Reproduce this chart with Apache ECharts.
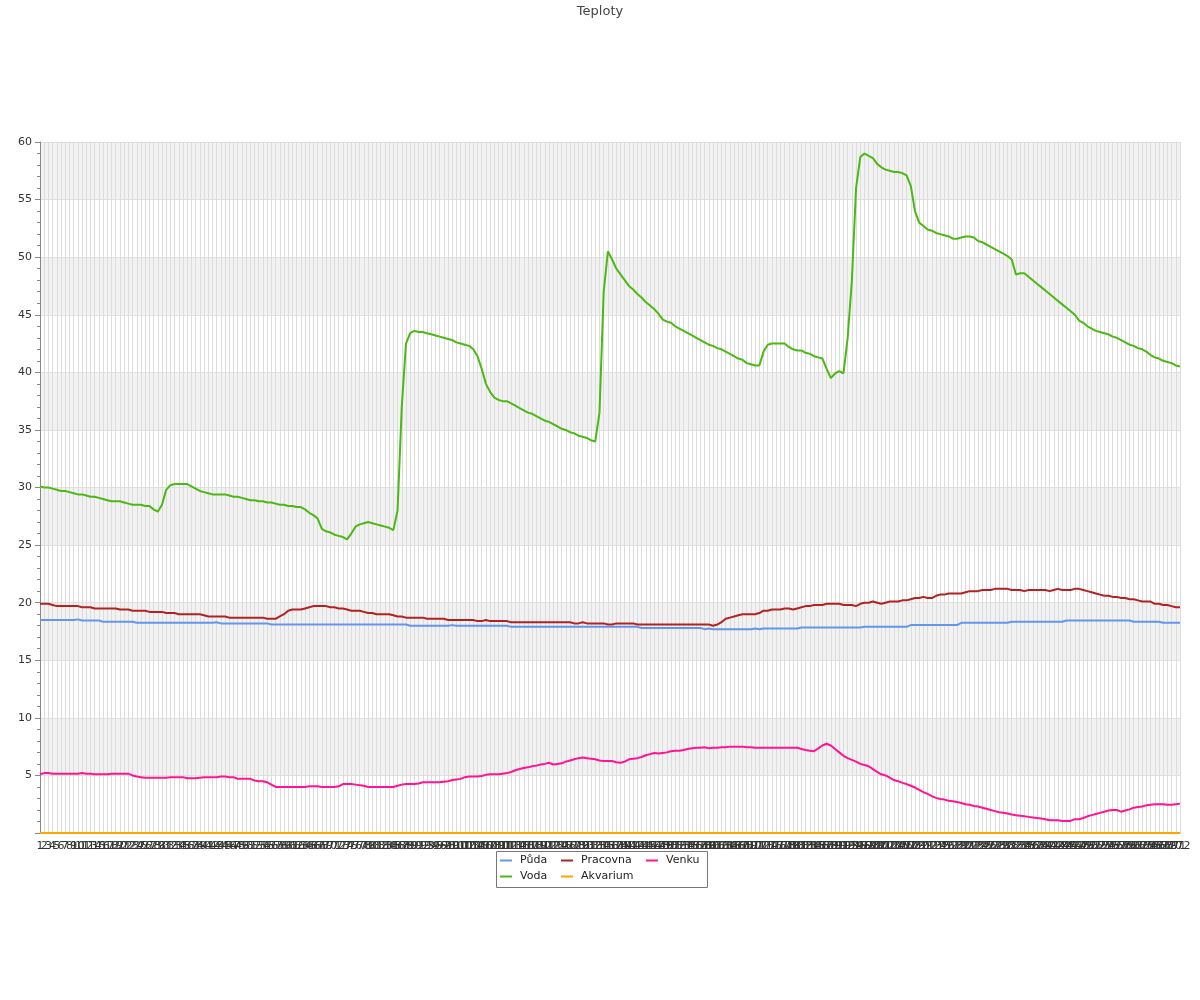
<!DOCTYPE html>
<html>
<head>
<meta charset="utf-8">
<script src="https://cdn.jsdelivr.net/npm/echarts@6/dist/echarts.min.js"></script>
<style>html,body{margin:0;padding:0;background:#fff}#c{width:1200px;height:1000px}</style>
</head>
<body>
<div id="c"></div>
<script>
const title = 'Teploty';
const seriesNames = ['Půda', 'Voda', 'Pracovna', 'Akvarium', 'Venku'];
const yTicks = [0, 5, 10, 15, 20, 25, 30, 35, 40, 45, 50, 55, 60];

const puda = [
18.5,18.5,18.5,18.5,18.5,18.5,18.5,18.5,18.5,18.55,
18.45,18.45,18.45,18.45,18.45,18.35,18.35,18.35,18.35,18.35,
18.35,18.35,18.35,18.25,18.25,18.25,18.25,18.25,18.25,18.25,
18.25,18.25,18.25,18.25,18.25,18.25,18.25,18.25,18.25,18.25,
18.25,18.25,18.3,18.2,18.2,18.2,18.2,18.2,18.2,18.2,
18.2,18.2,18.2,18.2,18.2,18.1,18.1,18.1,18.1,18.1,
18.1,18.1,18.1,18.1,18.1,18.1,18.1,18.1,18.1,18.1,
18.1,18.1,18.1,18.1,18.1,18.1,18.1,18.1,18.1,18.1,
18.1,18.1,18.1,18.1,18.1,18.1,18.1,18.1,18.0,18.0,
18.0,18.0,18.0,18.0,18.0,18.0,18.0,18.0,18.05,18.0,
18.0,18.0,18.0,18.0,18.0,18.0,18.0,18.0,18.0,18.0,
18.0,18.0,17.9,17.9,17.9,17.9,17.9,17.9,17.9,17.9,
17.9,17.9,17.9,17.9,17.9,17.9,17.9,17.9,17.9,17.9,
17.9,17.9,17.9,17.9,17.9,17.9,17.9,17.9,17.9,17.9,
17.9,17.9,17.9,17.8,17.8,17.8,17.8,17.8,17.8,17.8,
17.8,17.8,17.8,17.8,17.8,17.8,17.8,17.8,17.7,17.75,
17.7,17.7,17.7,17.7,17.7,17.7,17.7,17.7,17.7,17.7,
17.75,17.7,17.75,17.75,17.75,17.75,17.75,17.75,17.75,17.75,
17.75,17.85,17.85,17.85,17.85,17.85,17.85,17.85,17.85,17.85,
17.85,17.85,17.85,17.85,17.85,17.85,17.9,17.9,17.9,17.9,
17.9,17.9,17.9,17.9,17.9,17.9,17.9,18.05,18.05,18.05,
18.05,18.05,18.05,18.05,18.05,18.05,18.05,18.05,18.05,18.25,
18.25,18.25,18.25,18.25,18.25,18.25,18.25,18.25,18.25,18.25,
18.25,18.35,18.35,18.35,18.35,18.35,18.35,18.35,18.35,18.35,
18.35,18.35,18.35,18.35,18.45,18.45,18.45,18.45,18.45,18.45,
18.45,18.45,18.45,18.45,18.45,18.45,18.45,18.45,18.45,18.45,
18.35,18.35,18.35,18.35,18.35,18.35,18.35,18.25,18.25,18.25,
18.25,18.25
];

const voda = [
30.1,30.0,30.0,29.9,29.8,29.7,29.7,29.6,29.5,29.4,
29.4,29.3,29.2,29.2,29.1,29.0,28.9,28.8,28.8,28.8,
28.7,28.6,28.5,28.5,28.5,28.4,28.4,28.1,27.9,28.5,
29.8,30.2,30.3,30.3,30.3,30.3,30.1,29.9,29.7,29.6,
29.5,29.4,29.4,29.4,29.4,29.3,29.2,29.2,29.1,29.0,
28.9,28.9,28.8,28.8,28.7,28.7,28.6,28.5,28.5,28.4,
28.4,28.3,28.3,28.1,27.8,27.6,27.3,26.4,26.2,26.1,
25.9,25.8,25.7,25.5,26.0,26.6,26.8,26.9,27.0,26.9,
26.8,26.7,26.6,26.5,26.3,28.0,37.0,42.5,43.4,43.6,
43.5,43.5,43.4,43.3,43.2,43.1,43.0,42.9,42.8,42.6,
42.5,42.4,42.3,42.0,41.4,40.3,39.0,38.3,37.8,37.6,
37.5,37.5,37.3,37.1,36.9,36.7,36.5,36.4,36.2,36.0,
35.8,35.7,35.5,35.3,35.1,35.0,34.8,34.7,34.5,34.4,
34.3,34.1,34.0,36.5,47.0,50.5,49.8,49.0,48.5,48.0,
47.5,47.2,46.8,46.5,46.1,45.8,45.5,45.1,44.6,44.4,
44.3,44.0,43.8,43.6,43.4,43.2,43.0,42.8,42.6,42.4,
42.3,42.1,42.0,41.8,41.6,41.4,41.2,41.1,40.8,40.7,
40.6,40.6,41.8,42.4,42.5,42.5,42.5,42.5,42.2,42.0,
41.9,41.9,41.7,41.6,41.4,41.3,41.2,40.3,39.5,39.9,
40.1,39.9,43.0,48.0,56.0,58.7,59.0,58.8,58.6,58.1,
57.8,57.6,57.5,57.4,57.4,57.3,57.1,56.2,54.0,53.0,
52.7,52.4,52.3,52.1,52.0,51.9,51.8,51.6,51.6,51.7,
51.8,51.8,51.7,51.4,51.3,51.1,50.9,50.7,50.5,50.3,
50.1,49.8,48.5,48.6,48.6,48.3,48.0,47.7,47.4,47.1,
46.8,46.5,46.2,45.9,45.6,45.3,45.0,44.5,44.3,44.0,
43.8,43.6,43.5,43.4,43.3,43.1,43.0,42.8,42.6,42.4,
42.3,42.1,42.0,41.8,41.5,41.3,41.2,41.0,40.9,40.8,
40.6,40.5
];

const pracovna = [
19.9,19.9,19.9,19.8,19.7,19.7,19.7,19.7,19.7,19.7,
19.6,19.6,19.6,19.5,19.5,19.5,19.5,19.5,19.5,19.4,
19.4,19.4,19.3,19.3,19.3,19.3,19.2,19.2,19.2,19.2,
19.1,19.1,19.1,19.0,19.0,19.0,19.0,19.0,19.0,18.9,
18.8,18.8,18.8,18.8,18.8,18.7,18.7,18.7,18.7,18.7,
18.7,18.7,18.7,18.7,18.6,18.6,18.6,18.8,19.0,19.3,
19.4,19.4,19.4,19.5,19.6,19.7,19.7,19.7,19.7,19.6,
19.6,19.5,19.5,19.4,19.3,19.3,19.3,19.2,19.1,19.1,
19.0,19.0,19.0,19.0,18.9,18.8,18.8,18.7,18.7,18.7,
18.7,18.7,18.6,18.6,18.6,18.6,18.6,18.5,18.5,18.5,
18.5,18.5,18.5,18.5,18.4,18.4,18.5,18.4,18.4,18.4,
18.4,18.4,18.3,18.3,18.3,18.3,18.3,18.3,18.3,18.3,
18.3,18.3,18.3,18.3,18.3,18.3,18.3,18.2,18.2,18.3,
18.2,18.2,18.2,18.2,18.2,18.1,18.1,18.2,18.2,18.2,
18.2,18.2,18.1,18.1,18.1,18.1,18.1,18.1,18.1,18.1,
18.1,18.1,18.1,18.1,18.1,18.1,18.1,18.1,18.1,18.1,
18.0,18.1,18.3,18.6,18.7,18.8,18.9,19.0,19.0,19.0,
19.0,19.1,19.3,19.3,19.4,19.4,19.4,19.5,19.5,19.4,
19.5,19.6,19.7,19.7,19.8,19.8,19.8,19.9,19.9,19.9,
19.9,19.8,19.8,19.8,19.7,19.9,20.0,20.0,20.1,20.0,
19.9,20.0,20.1,20.1,20.1,20.2,20.2,20.3,20.4,20.4,
20.5,20.4,20.4,20.6,20.7,20.7,20.8,20.8,20.8,20.8,
20.9,21.0,21.0,21.0,21.1,21.1,21.1,21.2,21.2,21.2,
21.2,21.1,21.1,21.1,21.0,21.1,21.1,21.1,21.1,21.1,
21.0,21.1,21.2,21.1,21.1,21.1,21.2,21.2,21.1,21.0,
20.9,20.8,20.7,20.6,20.6,20.5,20.5,20.4,20.4,20.3,
20.3,20.2,20.1,20.1,20.1,19.9,19.9,19.8,19.8,19.7,
19.6,19.6
];

const akvarium = [
0,0,0,0,0,0,0,0,0,0, 0,0,0,0,0,0,0,0,0,0, 0,0,0,0,0,0,0,0,0,0,
0,0,0,0,0,0,0,0,0,0, 0,0,0,0,0,0,0,0,0,0, 0,0,0,0,0,0,0,0,0,0,
0,0,0,0,0,0,0,0,0,0, 0,0,0,0,0,0,0,0,0,0, 0,0,0,0,0,0,0,0,0,0,
0,0,0,0,0,0,0,0,0,0, 0,0,0,0,0,0,0,0,0,0, 0,0,0,0,0,0,0,0,0,0,
0,0,0,0,0,0,0,0,0,0, 0,0,0,0,0,0,0,0,0,0, 0,0,0,0,0,0,0,0,0,0,
0,0,0,0,0,0,0,0,0,0, 0,0,0,0,0,0,0,0,0,0, 0,0,0,0,0,0,0,0,0,0,
0,0,0,0,0,0,0,0,0,0, 0,0,0,0,0,0,0,0,0,0, 0,0,0,0,0,0,0,0,0,0,
0,0,0,0,0,0,0,0,0,0, 0,0,0,0,0,0,0,0,0,0, 0,0,0,0,0,0,0,0,0,0,
0,0,0,0,0,0,0,0,0,0, 0,0,0,0,0,0,0,0,0,0, 0,0,0,0,0,0,0,0,0,0,
0,0
];

const venku = [
5.1,5.2,5.2,5.15,5.15,5.15,5.15,5.15,5.15,5.15,
5.2,5.15,5.15,5.1,5.1,5.1,5.1,5.15,5.15,5.15,
5.15,5.15,5.0,4.9,4.85,4.8,4.8,4.8,4.8,4.8,
4.8,4.85,4.85,4.85,4.85,4.75,4.75,4.75,4.8,4.85,
4.85,4.85,4.85,4.9,4.9,4.85,4.85,4.7,4.7,4.7,
4.7,4.55,4.5,4.5,4.4,4.2,4.0,4.0,4.0,4.0,
4.0,4.0,4.0,4.0,4.05,4.05,4.05,4.0,4.0,4.0,
4.0,4.05,4.25,4.25,4.25,4.2,4.15,4.1,4.0,4.0,
4.0,4.0,4.0,4.0,4.0,4.1,4.2,4.25,4.25,4.25,
4.3,4.4,4.4,4.4,4.4,4.4,4.45,4.5,4.6,4.65,
4.7,4.85,4.9,4.9,4.9,4.95,5.05,5.1,5.1,5.1,
5.15,5.2,5.3,5.45,5.55,5.65,5.7,5.8,5.85,5.95,
6.0,6.1,5.95,6.0,6.05,6.2,6.3,6.4,6.5,6.55,
6.5,6.45,6.4,6.3,6.25,6.25,6.25,6.15,6.1,6.2,
6.4,6.45,6.5,6.6,6.75,6.85,6.95,6.9,6.95,7.0,
7.1,7.15,7.15,7.2,7.3,7.35,7.4,7.4,7.45,7.35,
7.4,7.4,7.45,7.45,7.5,7.5,7.5,7.5,7.45,7.45,
7.4,7.4,7.4,7.4,7.4,7.4,7.4,7.4,7.4,7.4,
7.4,7.3,7.2,7.15,7.1,7.35,7.6,7.75,7.6,7.3,
7.0,6.7,6.5,6.35,6.2,6.0,5.9,5.8,5.55,5.3,
5.1,5.0,4.8,4.6,4.5,4.35,4.25,4.1,3.95,3.75,
3.55,3.4,3.2,3.05,2.95,2.9,2.8,2.75,2.7,2.6,
2.5,2.45,2.35,2.3,2.2,2.1,2.0,1.9,1.8,1.75,
1.7,1.6,1.55,1.5,1.45,1.4,1.35,1.3,1.25,1.2,
1.1,1.1,1.1,1.05,1.05,1.05,1.2,1.2,1.3,1.45,
1.55,1.65,1.75,1.85,1.95,2.0,2.0,1.85,1.95,2.05,
2.2,2.25,2.3,2.4,2.45,2.5,2.5,2.5,2.45,2.45,
2.5,2.55
];

const categories = [];
for (let i = 1; i <= voda.length; i++) categories.push(String(i));

const colors = ['#6495ED', '#4CB814', '#B22222', '#FFA500', '#FF1493'];
const seriesData = [puda, voda, pracovna, akvarium, venku];

const chart = echarts.init(document.getElementById('c'), null, {renderer: 'canvas'});
const font = 'DejaVu Sans';

// legend items: [name index, left, top]
const legendPos = [[0, 500, 855], [1, 500, 871], [2, 561, 855], [3, 561, 871], [4, 646, 855]];

chart.setOption({
  animation: false,
  backgroundColor: '#fff',
  textStyle: {fontFamily: font},
  title: {
    text: title, left: 'center', top: 0,
    textStyle: {fontSize: 13, fontWeight: 'normal', color: '#444', fontFamily: font}
  },
  grid: {left: 40, right: 20, top: 142, bottom: 167, containLabel: false},
  legend: legendPos.map(p => ({
    data: [{name: seriesNames[p[0]], icon: 'rect'}],
    left: p[1], top: p[2],
    itemWidth: 12, itemHeight: 2, padding: 0,
    textStyle: {fontSize: 11, color: '#222', fontFamily: font, padding: [0, 0, 0, 3]}
  })),
  graphic: [{
    type: 'rect', left: 494, top: 849,
    shape: {width: 211, height: 36},
    style: {fill: 'none', stroke: '#777', lineWidth: 1}
  }],
  xAxis: {
    type: 'category', data: categories, boundaryGap: false,
    axisLine: {show: true, lineStyle: {color: '#888'}},
    axisTick: {show: false},
    axisLabel: {interval: 0, fontSize: 11, color: '#333', margin: 8, fontFamily: font},
    splitLine: {show: true, interval: 0, lineStyle: {color: '#dcdcdc', width: 1}}
  },
  yAxis: {
    type: 'value', min: yTicks[0], max: yTicks[yTicks.length - 1], interval: 5,
    axisLine: {show: true, lineStyle: {color: '#888'}},
    axisTick: {show: true, length: 5, lineStyle: {color: '#888'}},
    minorTick: {show: true, splitNumber: 5, length: 3, lineStyle: {color: '#888'}},
    axisLabel: {fontSize: 11, color: '#333', fontFamily: font,
      formatter: v => (v === 0 ? '' : String(v))},
    splitLine: {show: true, lineStyle: {color: '#e0e0e0'}},
    splitArea: {show: true, areaStyle: {color: ['rgba(255,255,255,1)', 'rgba(242,242,242,1)']}}
  },
  series: seriesNames.map((n, k) => ({
    name: n, type: 'line', data: seriesData[k],
    symbol: 'none', smooth: false,
    lineStyle: {width: 2, color: colors[k]},
    itemStyle: {color: colors[k]}
  }))
});
</script>
</body>
</html>
